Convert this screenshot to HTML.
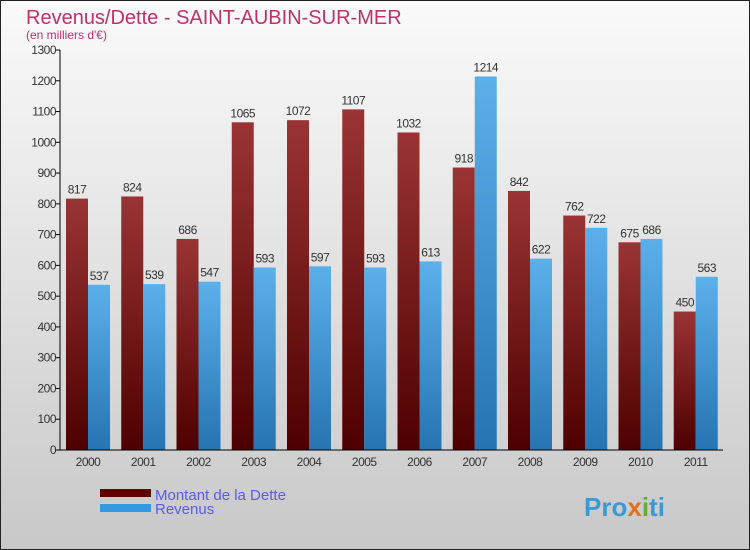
<!DOCTYPE html>
<html><head><meta charset="utf-8"><style>
body{margin:0}
svg{display:block;font-family:"Liberation Sans",sans-serif}
</style></head><body>
<svg id="c" width="750" height="550" viewBox="0 0 750 550">
<defs>
<linearGradient id="bg" x1="0" y1="0" x2="0" y2="1"><stop offset="0" stop-color="#fafafa"/><stop offset="1" stop-color="#c8c8c8"/></linearGradient>
<linearGradient id="gd" x1="0" y1="0" x2="0" y2="1"><stop offset="0" stop-color="#9a3434"/><stop offset="1" stop-color="#4e0000"/></linearGradient>
<linearGradient id="gb" x1="0" y1="0" x2="0" y2="1"><stop offset="0" stop-color="#5cb0ea"/><stop offset="1" stop-color="#2674b2"/></linearGradient>
</defs>
<rect x="0.5" y="0.5" width="749" height="549" fill="url(#bg)" stroke="#222"/>
<text x="26" y="24" font-size="20" fill="#c0306a">Revenus/Dette - SAINT-AUBIN-SUR-MER</text>
<text x="26" y="39" font-size="12" fill="#c0306a">(en milliers d'€)</text>
<g id="plot"></g>
<rect x="100" y="489" width="51" height="8" fill="#5e0000"/>
<text x="155" y="500" font-size="15" fill="#5a5af0">Montant de la Dette</text>
<rect x="100" y="504" width="51" height="8" fill="#3399e0"/>
<text x="155" y="514" font-size="15" fill="#5a5af0">Revenus</text>
<text x="584" y="516" font-size="26" font-weight="bold" fill="#3a9ad8">Pro<tspan fill="#e07020">x</tspan><tspan fill="#60b030">i</tspan>ti</text>
</svg>
<script>
const categories=["2000","2001","2002","2003","2004","2005","2006","2007","2008","2009","2010","2011"];
const detteValues=[817,824,686,1065,1072,1107,1032,918,842,762,675,450];
const revenusValues=[537,539,547,593,597,593,613,1214,622,722,686,563];
const yTicks=[0,100,200,300,400,500,600,700,800,900,1000,1100,1200,1300];
const NS="http://www.w3.org/2000/svg";
const g=document.getElementById('plot');
const x0=60,x1=723,y0=450,y1=50,ymax=1300;
const step=(x1-x0)/categories.length;
const y=v=>y0-(v/ymax)*(y0-y1);
function mk(t,a,txt){const e=document.createElementNS(NS,t);for(const k in a)e.setAttribute(k,a[k]);if(txt!=null)e.textContent=txt;g.appendChild(e);return e;}
yTicks.forEach(t=>{
 const l=mk('line',{x1:x0-4,x2:x0,y1:y(t),y2:y(t),stroke:'#000'});
 
 
 const tx=mk('text',{x:x0-4,y:y(t)+4,'font-size':12,'text-anchor':'end',fill:'#333','letter-spacing':'-0.5'},t);
 
 
});
categories.forEach((c,i)=>{
 const gx=x0+i*step+6, bw=22;
 const d=mk('rect',{x:gx,y:y(detteValues[i]),width:bw,height:y0-y(detteValues[i]),fill:'url(#gd)'});
 
 
 const b=mk('rect',{x:gx+bw,y:y(revenusValues[i]),width:bw,height:y0-y(revenusValues[i]),fill:'url(#gb)'});
 
 
 const l1=mk('text',{x:gx+bw/2,y:y(detteValues[i])-5,'font-size':12,'text-anchor':'middle',fill:'#333','letter-spacing':'-0.5'},detteValues[i]);
 
 
 const l2=mk('text',{x:gx+bw*1.5,y:y(revenusValues[i])-5,'font-size':12,'text-anchor':'middle',fill:'#333','letter-spacing':'-0.5'},revenusValues[i]);
 
 
 const xl=mk('text',{x:gx+bw,y:y0+16,'font-size':12,'text-anchor':'middle',fill:'#333','letter-spacing':'-0.5'},c);
 
 
});
const ax=mk('path',{d:`M${x0} ${y1} V${y0} H${x1}`,stroke:'#000',fill:'none'});


</script>
</body></html>
